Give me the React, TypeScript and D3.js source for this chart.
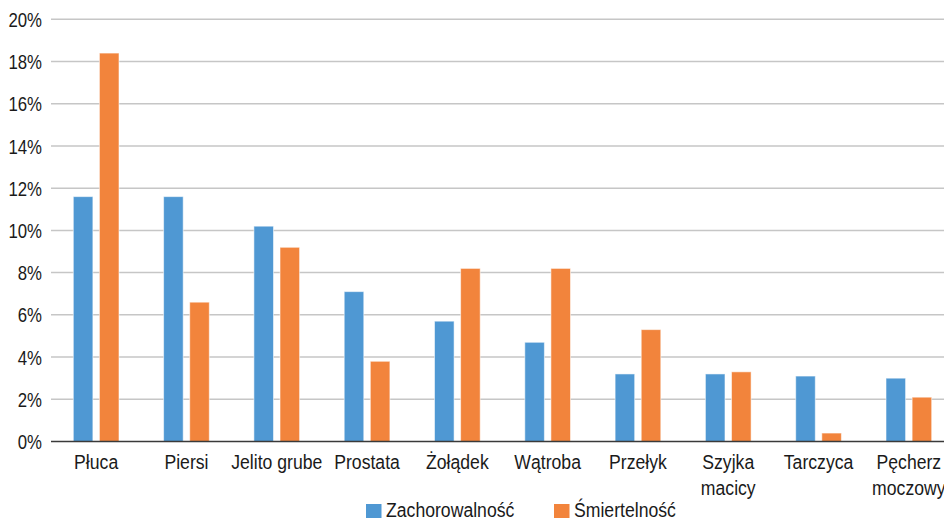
import React from "react";
import * as d3 from "d3";

// Cancer sites and their share of incidence and mortality (percent)
const categories = [
  "Płuca",
  "Piersi",
  "Jelito grube",
  "Prostata",
  "Żołądek",
  "Wątroba",
  "Przełyk",
  "Szyjka macicy",
  "Tarczyca",
  "Pęcherz moczowy",
];
const categoryLines: string[][] = [
  ["Płuca"],
  ["Piersi"],
  ["Jelito grube"],
  ["Prostata"],
  ["Żołądek"],
  ["Wątroba"],
  ["Przełyk"],
  ["Szyjka", "macicy"],
  ["Tarczyca"],
  ["Pęcherz", "moczowy"],
];
const incidence = [11.6, 11.6, 10.2, 7.1, 5.7, 4.7, 3.2, 3.2, 3.1, 3.0];
const mortality = [18.4, 6.6, 9.2, 3.8, 8.2, 8.2, 5.3, 3.3, 0.4, 2.1];
const seriesNames = ["Zachorowalność", "Śmiertelność"];
const seriesColors = ["#4f98d3", "#f2843c"];
const yTicks = [0, 2, 4, 6, 8, 10, 12, 14, 16, 18, 20];

const W = 944;
const H = 520;
const FONT = "'Liberation Sans', Arial, sans-serif";
const FS = 21;
// horizontal squeeze to get a narrow face out of Liberation Sans
const NARROW = 0.84;

function Label({
  x,
  y,
  anchor = "start",
  sx = NARROW,
  dy,
  children,
}: {
  x: number;
  y: number;
  anchor?: "start" | "middle" | "end";
  sx?: number;
  dy?: string;
  children: React.ReactNode;
}) {
  return (
    <text
      transform={`translate(${x},${y}) scale(${sx},1)`}
      textAnchor={anchor}
      dy={dy}
      fontSize={FS}
      fill="#1a1a1a"
    >
      {children}
    </text>
  );
}

export default function App() {
  const x0 = 51;
  const step = 90.3;
  const x = d3
    .scaleBand<string>()
    .domain(categories)
    .range([x0, x0 + step * categories.length])
    .paddingInner(0.494)
    .paddingOuter(0.247);
  const xs = d3
    .scaleBand<string>()
    .domain(seriesNames)
    .range([0, x.bandwidth()])
    .paddingInner(0.25);
  const y = d3.scaleLinear().domain([0, 20]).range([441.5, 19.3]);

  const series = [incidence, mortality];

  return (
    <svg
      width={W}
      height={H}
      style={{ position: "absolute", left: 0, top: 0, background: "#fff" }}
      fontFamily={FONT}
    >
      {/* gridlines */}
      {yTicks
        .filter((t) => t > 0)
        .map((t) => (
          <line
            key={t}
            x1={x0}
            x2={W}
            y1={y(t)}
            y2={y(t)}
            stroke="#c6c6c6"
            strokeWidth={1.5}
          />
        ))}
      {/* y tick labels */}
      {yTicks.map((t) => (
        <Label key={t} x={42} y={y(t)} dy="0.36em" anchor="end" sx={0.8}>
          {t}%
        </Label>
      ))}
      {/* bars */}
      {categories.map((c, i) => (
        <g key={c} transform={`translate(${x(c)},0)`}>
          {series.map((vals, s) => (
            <rect
              key={s}
              x={xs(seriesNames[s])}
              y={y(vals[i])}
              width={xs.bandwidth()}
              height={y(0) - y(vals[i])}
              fill={seriesColors[s]}
              stroke="#ffffff"
              strokeOpacity={0.55}
              strokeWidth={1}
            />
          ))}
        </g>
      ))}
      {/* baseline */}
      <line x1={x0} x2={W} y1={y(0)} y2={y(0)} stroke="#3a3a3a" strokeWidth={1.6} />
      {/* category labels */}
      {categories.map((c, i) => {
        const cx = (x(c) as number) + x.bandwidth() / 2;
        return (
          <g key={c}>
            {categoryLines[i].map((line, k) => (
              <Label key={k} x={cx} y={469 + k * 25.5} anchor="middle">
                {line}
              </Label>
            ))}
          </g>
        );
      })}
      {/* legend */}
      {seriesNames.map((name, s) => {
        const lx = [366, 554][s];
        return (
          <g key={name}>
            <rect x={lx} y={504} width={15.5} height={14} fill={seriesColors[s]} />
            <Label x={lx + 20} y={517}>
              {name}
            </Label>
          </g>
        );
      })}
    </svg>
  );
}
